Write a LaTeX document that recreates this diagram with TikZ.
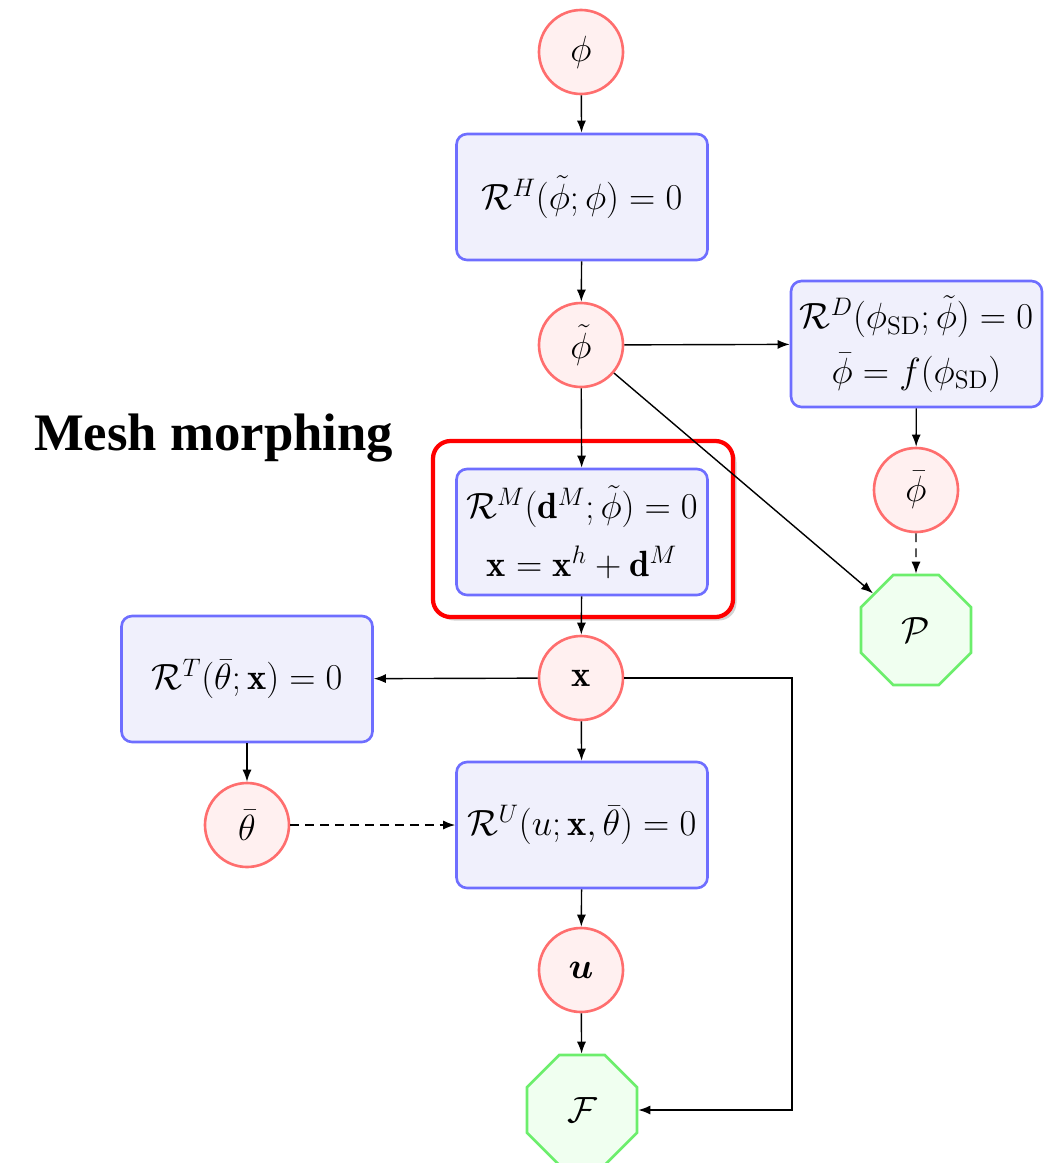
\documentclass[tikz,border=0pt]{standalone}
\usepackage{amsmath,amssymb}
\usepackage{fontspec}
\newfontfamily\headfont{Liberation Serif}
\usetikzlibrary{arrows.meta,shapes.geometric,shadows}
\definecolor{varline}{HTML}{FF6E6E}
\definecolor{varfill}{HTML}{FFF0F0}
\definecolor{eqline}{HTML}{6E6EFF}
\definecolor{eqfill}{HTML}{F0F0FC}
\definecolor{objline}{HTML}{6CEE6C}
\definecolor{objfill}{HTML}{F0FFF0}
\definecolor{focus}{HTML}{FF0000}

\begin{document}
\begin{tikzpicture}[
  >={Latex[length=2.4mm,width=1.8mm]},
  arrow/.style={->,line width=.8pt},
  dasharrow/.style={arrow,dash pattern=on 5pt off 3.5pt},
  var/.style={circle,draw=varline,fill=varfill,line width=1.5pt,
    minimum size=1.68cm,inner sep=0pt,font=\fontsize{20.74}{25}\selectfont},
  eqbox/.style={draw=eqline,fill=eqfill,line width=1.5pt,rounded corners=6pt,
    minimum width=5.02cm,minimum height=2.52cm,align=center,inner sep=2pt,
    font=\fontsize{20.74}{25}\selectfont},
  obj/.style={regular polygon,regular polygon sides=8,draw=objline,
    fill=objfill,line width=1.5pt,minimum size=2.38cm,inner sep=0pt,
    font=\fontsize{20.74}{25}\selectfont}
]
  \useasboundingbox (0,0) rectangle (21.08,-23.26);

  % highlighted mesh step
  \draw[focus,line width=2.4pt,rounded corners=10pt,
    drop shadow={opacity=.35,shadow xshift=.07cm,shadow yshift=-.07cm},
    fill=white] (8.66,-8.82) rectangle (14.66,-12.34);
  \node[font=\headfont\bfseries\fontsize{30}{36}\selectfont,anchor=base west]
    (title) at (0.56,-9.0) {Mesh morphing};

  % main column
  \node[var] (phi) at (11.62,-1.04) {$\phi$};
  \node[eqbox] (RH) at (11.64,-3.94) {$\mathcal{R}^H(\tilde\phi;\phi)=0$};
  \node[var] (phit) at (11.62,-6.90) {$\tilde\phi$};
  \node[eqbox] (RM) at (11.64,-10.64)
    {$\mathcal{R}^M(\mathbf{d}^M;\tilde\phi)=0$\\[8pt]
     $\mathbf{x}=\mathbf{x}^h+\mathbf{d}^M$};
  \node[var] (x) at (11.62,-13.56) {$\mathbf{x}$};
  \node[eqbox] (RU) at (11.64,-16.50) {$\mathcal{R}^U(u;\mathbf{x},\bar\theta)=0$};
  \node[var] (u) at (11.62,-19.40) {$\boldsymbol{u}$};
  \node[obj] (F) at (11.64,-22.20) {$\mathcal{F}$};

  % design branch
  \node[eqbox] (RD) at (18.33,-6.88)
    {$\mathcal{R}^D(\phi_{\mathrm{SD}};\tilde\phi)=0$\\[6pt]
     $\bar\phi=f(\phi_{\mathrm{SD}})$};
  \node[var] (phib) at (18.32,-9.80) {$\bar\phi$};
  \node[obj] (P) at (18.32,-12.60) {$\mathcal{P}$};

  % thermal branch
  \node[eqbox] (RT) at (4.94,-13.58) {$\mathcal{R}^T(\bar\theta;\mathbf{x})=0$};
  \node[var] (thb) at (4.94,-16.50) {$\bar\theta$};

  \coordinate (turn) at (15.84,-13.56);

  \draw[arrow] (phi) -- (RH);
  \draw[arrow] (RH) -- (phit);
  \draw[arrow] (phit) -- (RM);
  \draw[arrow] (phit) -- (RD);
  \draw[arrow] (phit) -- (P);
  \draw[arrow] (RD) -- (phib);
  \draw[dasharrow] (phib) -- (P);
  \draw[arrow] (RM) -- (x);
  \draw[arrow] (x) -- (RT);
  \draw[arrow] (x) -- (RU);
  \draw[arrow] (x) -- (turn) |- (F);
  \draw[arrow] (RT) -- (thb);
  \draw[dasharrow] (thb) -- (RU);
  \draw[arrow] (RU) -- (u);
  \draw[arrow] (u) -- (F);
\end{tikzpicture}
\end{document}
